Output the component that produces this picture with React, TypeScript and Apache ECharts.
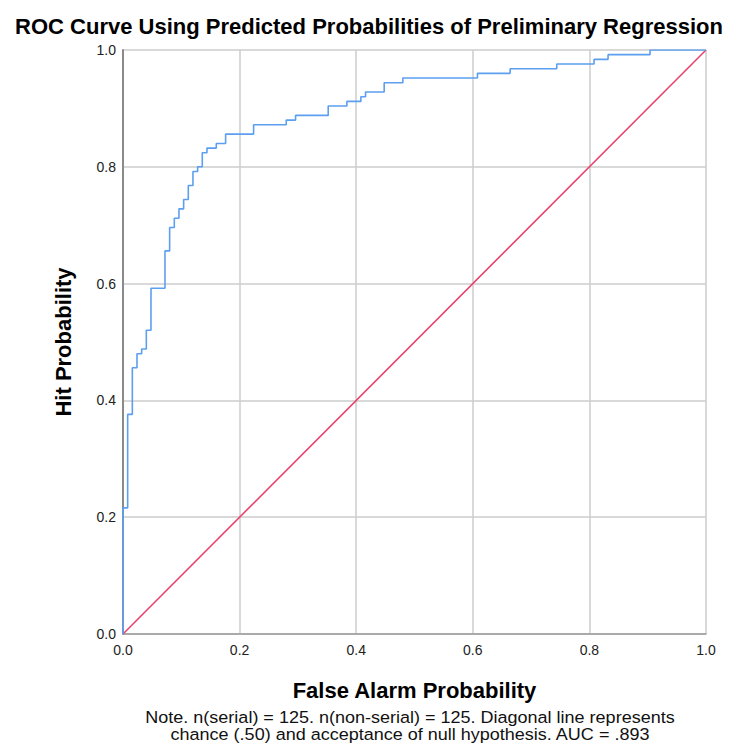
import React, { useEffect, useRef } from "react";
import * as echarts from "echarts";

const TITLE = "ROC Curve Using Predicted Probabilities of Preliminary Regression";
const X_NAME = "False Alarm Probability";
const Y_NAME = "Hit Probability";
const NOTE_LINES = [
  "Note. n(serial) = 125. n(non-serial) = 125. Diagonal line represents",
  "chance (.50) and acceptance of null hypothesis. AUC = .893",
];

// ROC step points (false alarm, hit); each step goes right then up
const rocFpr = [
  0, 0, 0.008, 0.016, 0.024, 0.032, 0.04, 0.048, 0.072, 0.08, 0.088, 0.096, 0.104,
  0.112, 0.12, 0.128, 0.136, 0.144, 0.16, 0.176, 0.224, 0.28, 0.296, 0.352, 0.384,
  0.408, 0.416, 0.448, 0.48, 0.608, 0.664, 0.744, 0.808, 0.832, 0.904, 1.0,
];
const rocTpr = [
  0, 0.216, 0.376, 0.456, 0.48, 0.488, 0.52, 0.592, 0.656, 0.696, 0.712, 0.728, 0.744,
  0.768, 0.792, 0.8, 0.824, 0.832, 0.84, 0.856, 0.872, 0.88, 0.888, 0.904, 0.912,
  0.92, 0.928, 0.944, 0.952, 0.96, 0.968, 0.976, 0.984, 0.992, 1.0, 1.0,
];
const diagX = [0, 1];
const diagY = [0, 1];

const FONT = "Liberation Sans, Arial, sans-serif";

export default function App() {
  const ref = useRef<HTMLDivElement>(null);
  useEffect(() => {
    if (!ref.current) return;
    const chart = echarts.init(ref.current, undefined, { renderer: "svg" });
    chart.setOption({
      animation: false,
      backgroundColor: "#ffffff",
      title: {
        text: TITLE,
        left: "center",
        top: 10,
        textStyle: { fontSize: 22, fontWeight: "bold", color: "#000", fontFamily: FONT },
      },
      grid: { left: 123, right: 32, top: 50, bottom: 111, containLabel: false },
      xAxis: {
        type: "value",
        min: 0,
        max: 1,
        interval: 0.2,
        name: X_NAME,
        nameLocation: "middle",
        nameGap: 45,
        nameTextStyle: { fontSize: 22, fontWeight: "bold", color: "#000", fontFamily: FONT },
        axisLine: { show: true, lineStyle: { color: "#9a9a9a", width: 1.5 } },
        axisTick: { show: false },
        axisLabel: {
          formatter: (v: number) => v.toFixed(1),
          fontSize: 14,
          color: "#222",
          fontFamily: FONT,
          margin: 9,
        },
        splitLine: { show: true, lineStyle: { color: "#cccccc", width: 1.5 } },
      },
      yAxis: {
        type: "value",
        min: 0,
        max: 1,
        interval: 0.2,
        name: Y_NAME,
        nameLocation: "middle",
        nameGap: 49,
        nameTextStyle: { fontSize: 22, fontWeight: "bold", color: "#000", fontFamily: FONT },
        axisLine: { show: true, lineStyle: { color: "#8a8a8a", width: 2 } },
        axisTick: { show: false },
        axisLabel: {
          formatter: (v: number) => v.toFixed(1),
          fontSize: 14,
          color: "#222",
          fontFamily: FONT,
          margin: 7,
        },
        splitLine: { show: true, lineStyle: { color: "#cccccc", width: 1.5 } },
      },
      graphic: NOTE_LINES.map((t, i) => ({
        type: "text",
        x: 410,
        y: 717 + i * 17,
        style: {
          text: t,
          fontSize: 17,
          fontFamily: FONT,
          fill: "#111",
          textAlign: "center",
          textVerticalAlign: "middle",
        },
        scaleX: 1.06,
      })),
      series: [
        {
          type: "line",
          data: rocFpr.map((x, i) => [x, rocTpr[i]]),
          step: "end",
          showSymbol: false,
          lineStyle: { color: "#5c9ff0", width: 1.6 },
          z: 3,
        },
        {
          type: "line",
          data: diagX.map((x, i) => [x, diagY[i]]),
          showSymbol: false,
          lineStyle: { color: "#e8426f", width: 1.6 },
          z: 2,
        },
      ],
    });
    return () => chart.dispose();
  }, []);
  return (
    <div
      ref={ref}
      style={{ position: "fixed", left: 0, top: 0, width: 738, height: 745 }}
    />
  );
}
